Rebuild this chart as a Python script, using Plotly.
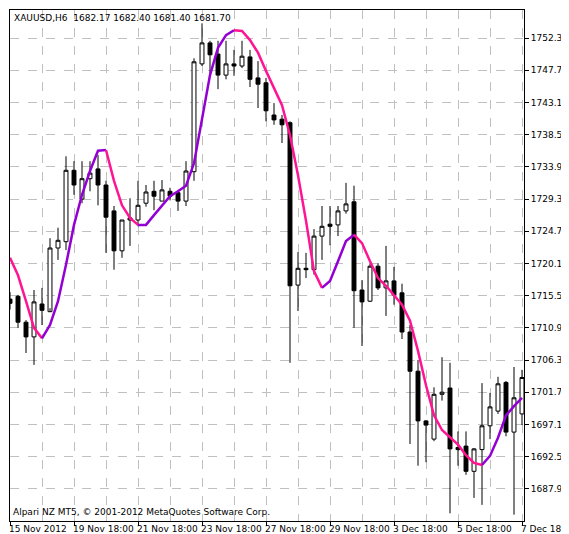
import plotly.graph_objects as go

opens  = [1715.0,1715.4,1711.7,1709.6,1714.3,1713.2,1722.3,1723.2,1733.4,1729.3,1732.2,1733.6,1731.3,1727.6,1721.9,1726.3,1726.3,1728.7,1730.4,1729.0,1730.4,1730.2,1729.0,1733.2,1748.6,1751.6,1750.0,1747.0,1748.6,1748.3,1749.6,1746.6,1745.9,1741.3,1740.7,1740.2,1717.0,1719.4,1719.2,1724.0,1725.7,1725.6,1727.6,1728.9,1716.3,1714.7,1719.7,1716.6,1717.6,1715.9,1710.3,1704.7,1697.6,1695.0,1701.4,1702.3,1693.8,1694.0,1690.4,1693.5,1696.9,1699.0,1703.1,1696.0,1698.6]
highs  = [1716.0,1715.6,1712.0,1716.3,1716.6,1723.7,1725.2,1735.4,1734.7,1734.7,1734.7,1735.6,1731.9,1728.3,1726.3,1729.4,1731.9,1731.3,1731.9,1732.0,1730.9,1730.6,1734.7,1749.4,1754.4,1751.9,1751.9,1751.9,1750.6,1751.9,1750.6,1749.0,1746.6,1743.0,1741.3,1740.4,1721.7,1721.6,1725.0,1728.3,1728.3,1728.3,1731.6,1731.2,1717.7,1720.1,1720.1,1722.6,1719.6,1717.2,1711.3,1706.3,1697.7,1702.4,1706.7,1705.9,1696.1,1696.1,1693.7,1703.0,1701.6,1703.9,1703.3,1705.3,1704.9]
lows   = [1713.5,1710.9,1707.3,1705.6,1711.3,1713.7,1720.6,1722.0,1729.9,1728.7,1730.4,1728.4,1721.6,1719.2,1720.9,1722.6,1725.4,1728.2,1727.7,1729.0,1729.1,1727.6,1728.3,1731.9,1748.3,1747.0,1745.0,1746.4,1746.9,1748.0,1745.3,1742.3,1740.4,1739.9,1737.3,1705.9,1713.3,1718.0,1718.5,1720.6,1722.7,1724.0,1727.2,1710.9,1708.3,1714.6,1716.3,1712.6,1714.2,1709.3,1694.3,1691.2,1691.7,1694.7,1700.5,1684.4,1691.2,1689.9,1686.6,1685.6,1695.0,1698.6,1695.4,1684.2,1697.0]
closes = [1714.4,1711.7,1709.6,1714.6,1713.4,1722.3,1723.4,1733.4,1731.3,1732.2,1733.0,1731.3,1726.7,1721.9,1726.3,1726.6,1728.4,1730.3,1729.7,1730.6,1729.7,1729.0,1733.3,1748.9,1751.6,1749.9,1747.0,1748.6,1748.3,1749.7,1746.4,1745.7,1741.9,1740.6,1739.9,1716.9,1719.4,1719.2,1724.0,1725.4,1725.4,1727.6,1728.6,1716.2,1714.6,1719.7,1716.6,1717.6,1715.6,1710.3,1704.7,1697.6,1697.0,1701.4,1701.7,1693.6,1693.5,1690.4,1693.6,1696.9,1699.6,1702.9,1696.0,1700.9,1703.8]
ma = [1720.9,1718.4,1714.7,1710.9,1709.4,1711.3,1714.7,1719.9,1725.6,1729.9,1733.3,1736.2,1736.3,1731.9,1728.4,1726.6,1725.6,1725.6,1727.0,1728.4,1729.7,1730.4,1731.2,1734.4,1740.9,1747.0,1750.9,1752.7,1753.4,1753.3,1752.0,1750.2,1747.6,1745.2,1742.7,1738.4,1732.7,1726.2,1719.0,1716.6,1717.6,1720.4,1723.3,1724.2,1723.0,1720.4,1718.0,1716.9,1715.6,1714.2,1711.9,1707.6,1702.7,1698.4,1696.3,1695.2,1694.2,1692.7,1691.6,1691.3,1692.6,1695.2,1698.4,1699.7,1700.9]
xlabels = ["15 Nov 2012","19 Nov 18:00","21 Nov 18:00","23 Nov 18:00","27 Nov 18:00","29 Nov 18:00","3 Dec 18:00","5 Dec 18:00","7 Dec 18:00"]
xlabel_pos = [0,8,16,24,32,40,48,56,64]
yticks = [1687.9,1692.5,1697.1,1701.7,1706.3,1710.9,1715.5,1720.1,1724.7,1729.3,1733.9,1738.5,1743.1,1747.7,1752.3]

idx = list(range(len(opens)))
fig = go.Figure()
fig.add_trace(go.Candlestick(x=idx, open=opens, high=highs, low=lows, close=closes,
    increasing=dict(line=dict(color="black", width=1), fillcolor="white"),
    decreasing=dict(line=dict(color="black", width=1), fillcolor="black"),
    whiskerwidth=0, showlegend=False, hoverinfo="skip"))

PINK, PURPLE = "#FF1493", "#9400D3"
segs = []
for i in range(1, len(ma)):
    c = PURPLE if ma[i] >= ma[i-1] else PINK
    if segs and segs[-1][0] == c:
        segs[-1][1].append(i)
    else:
        segs.append((c, [i-1, i]))
for c, ids in segs:
    fig.add_trace(go.Scatter(x=ids, y=[ma[k] for k in ids], mode="lines",
        line=dict(color=c, width=2.5), showlegend=False, hoverinfo="skip"))

font = dict(family="DejaVu Sans", size=9, color="black")
anns = [dict(x=p, y=0, xref="x", yref="paper", text=t, showarrow=False,
             xanchor="left", yanchor="top", yshift=-1, xshift=-3, font=font)
        for p, t in zip(xlabel_pos, xlabels)]
anns.append(dict(x=0, y=1, xref="paper", yref="paper", xanchor="left", yanchor="top",
    text="XAUUSD,H6  1682.17 1682.40 1681.40 1681.70", showarrow=False, xshift=2, yshift=-1, font=font))
anns.append(dict(x=0, y=0, xref="paper", yref="paper", xanchor="left", yanchor="bottom",
    text="Alpari NZ MT5, © 2001-2012 MetaQuotes Software Corp.", showarrow=False, xshift=1, yshift=2, font=font))

fig.update_layout(width=569, height=534, margin=dict(l=2, r=53, t=2, b=21, autoexpand=False),
    paper_bgcolor="white", plot_bgcolor="white", annotations=anns,
    xaxis=dict(range=[0, 64.25], rangeslider=dict(visible=False), tickvals=xlabel_pos,
        ticktext=[""]*len(xlabel_pos), ticks="outside", ticklen=4, tickcolor="black",
        showgrid=True, gridcolor="#C0C0C0", griddash="dash", gridwidth=1, automargin=False,
        minor=dict(dtick=4, tick0=0, showgrid=True, gridcolor="#C0C0C0", griddash="dash"),
        showline=True, linecolor="black", mirror=True, zeroline=False, fixedrange=True),
    yaxis=dict(range=[1683.3, 1756.3], side="right", tickvals=yticks, automargin=False,
        ticktext=[f"{v:.2f}" for v in yticks], ticks="outside", ticklen=4, tickcolor="black",
        tickfont=font, showgrid=True, gridcolor="#C0C0C0", griddash="dash",
        showline=True, linecolor="black", mirror=True, zeroline=False))
fig.write_html("out.html")
